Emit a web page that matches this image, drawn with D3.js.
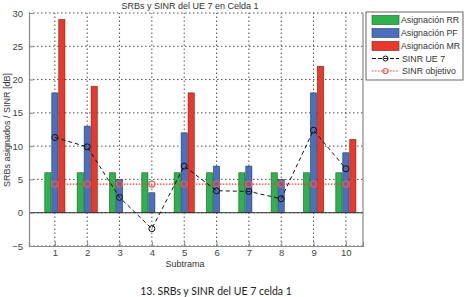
<!DOCTYPE html>
<html><head><meta charset="utf-8">
<script src="https://cdn.jsdelivr.net/npm/d3@7"></script>
<style>body{margin:0;background:#fff}svg{display:block}</style>
</head><body>
<script>
const subtramas = [1,2,3,4,5,6,7,8,9,10];
const asignRR = [6,6,6,6,6,6,6,6,6,6];
const asignPF = [18,13,5,3,12,7,7,5,18,9];
const asignMR = [29,19,0,0,18,0,0,0,22,11];
const sinrUE7 = [11.3,9.9,2.3,-2.4,7.0,3.3,3.2,2.1,12.4,6.6];
const sinrObjetivo = [4.3,4.3,4.3,4.3,4.3,4.3,4.3,4.3,4.3,4.3];
const yTicks = [-5,0,5,10,15,20,25,30];
const seriesNames = ["Asignación RR","Asignación PF","Asignación MR","SINR UE 7","SINR objetivo"];

const W=466,H=297;
const svg=d3.select("body").append("svg").attr("width",W).attr("height",H);
const x=d3.scaleLinear().domain([0.2,10.53]).range([29,363]);
const y=d3.scaleLinear().domain([-5,30]).range([246,13]);
const font="Arial, 'Liberation Sans', sans-serif";

// grid
const g=svg.append("g");
g.selectAll(".gx").data(subtramas).enter().append("line")
 .attr("x1",d=>x(d)).attr("x2",d=>x(d)).attr("y1",y(-5)).attr("y2",y(30))
 .attr("stroke","#222").attr("stroke-width",0.8).attr("stroke-dasharray","1.5,2.5");
g.selectAll(".gy").data(yTicks).enter().append("line")
 .attr("x1",x(0.2)).attr("x2",x(10.53)).attr("y1",d=>y(d)).attr("y2",d=>y(d))
 .attr("stroke","#222").attr("stroke-width",0.8).attr("stroke-dasharray","1.5,2.5");

// bars
const bw = x(0.2+0.19)-x(0.2);
const off = 0.216;
const barSeries=[
 {vals:asignRR,o:-off,fill:"#2eb24b",stroke:"#1f5a2a"},
 {vals:asignPF,o:0,fill:"#4a6fbd",stroke:"#263b66"},
 {vals:asignMR,o:off,fill:"#e8392b",stroke:"#6e1f18"}];
barSeries.forEach(s=>{
 svg.append("g").selectAll("rect").data(subtramas.map((c,i)=>({c,v:s.vals[i]}))).enter()
  .append("rect")
  .attr("x",d=>x(d.c+s.o)-bw/2).attr("width",bw)
  .attr("y",d=>y(Math.max(0,d.v))).attr("height",d=>Math.abs(y(d.v)-y(0)))
  .attr("fill",s.fill).attr("stroke",s.stroke).attr("stroke-width",0.6);
});

// zero line
svg.append("line").attr("x1",x(0.2)).attr("x2",x(10.53)).attr("y1",y(0)).attr("y2",y(0))
 .attr("stroke","#333").attr("stroke-width",1);

// lines
const line=d3.line().x((d,i)=>x(subtramas[i])).y(d=>y(d));
svg.append("path").datum(sinrObjetivo).attr("d",line).attr("fill","none")
 .attr("stroke","#e8392b").attr("stroke-width",1.2).attr("stroke-dasharray","1.5,1.5");
svg.append("g").selectAll("circle").data(sinrObjetivo).enter().append("circle")
 .attr("cx",(d,i)=>x(subtramas[i])).attr("cy",d=>y(d)).attr("r",3)
 .attr("fill","none").attr("stroke","#ee5a5a").attr("stroke-width",1.2);
svg.append("path").datum(sinrUE7).attr("d",line).attr("fill","none")
 .attr("stroke","#111").attr("stroke-width",1).attr("stroke-dasharray","4,3");
svg.append("g").selectAll("circle").data(sinrUE7).enter().append("circle")
 .attr("cx",(d,i)=>x(subtramas[i])).attr("cy",d=>y(d)).attr("r",3)
 .attr("fill","none").attr("stroke","#111").attr("stroke-width",1);

// axes
const yAxis=d3.axisLeft(y).tickValues(yTicks).tickSize(-4).tickPadding(6);
const ya=svg.append("g").attr("transform",`translate(${x(0.2)},0)`).call(yAxis);
const xAxis=d3.axisBottom(x).tickValues(subtramas).tickSize(-4).tickPadding(3);
const xa=svg.append("g").attr("transform",`translate(0,${y(-5)})`).call(xAxis);
[ya,xa].forEach(a=>{
 a.select(".domain").attr("stroke","#888").attr("stroke-width",1.2);
 a.selectAll(".tick line").attr("stroke","#888");
 a.selectAll("text").attr("font-family",font).attr("font-size",9.5).attr("fill","#444");
});
// right border
svg.append("line").attr("x1",x(10.53)).attr("x2",x(10.53)).attr("y1",y(30)).attr("y2",y(-5))
 .attr("stroke","#888").attr("stroke-width",1.2);

// titles
svg.append("text").attr("x",190).attr("y",9).attr("text-anchor","middle")
 .attr("font-family",font).attr("font-size",9).attr("fill","#333").text("SRBs y SINR del UE 7 en Celda 1");
svg.append("text").attr("x",185).attr("y",267).attr("text-anchor","middle")
 .attr("font-family",font).attr("font-size",9).attr("fill","#333").text("Subtrama");
svg.append("text").attr("transform","translate(10,130) rotate(-90)").attr("text-anchor","middle")
 .attr("font-family",font).attr("font-size",9).attr("fill","#333").text("SRBs asignados / SINR [dB]");
svg.append("text").attr("x",216).attr("y",295).attr("text-anchor","middle")
 .attr("font-family","Lato, 'Open Sans', sans-serif").attr("font-size",10.5).attr("fill","#222")
 .text("13. SRBs y SINR del UE 7 celda 1");

// legend
const lg=svg.append("g");
lg.append("rect").attr("x",366).attr("y",12).attr("width",97).attr("height",68)
 .attr("fill","#fff").attr("stroke","#666").attr("stroke-width",1);
const rowY=[20,33,46,58.5,71];
barSeries.forEach((s,i)=>{
 lg.append("rect").attr("x",372).attr("y",rowY[i]-4.5).attr("width",27).attr("height",9)
  .attr("fill",s.fill).attr("stroke",s.stroke).attr("stroke-width",0.6);
});
lg.append("line").attr("x1",372).attr("x2",399).attr("y1",rowY[3]).attr("y2",rowY[3])
 .attr("stroke","#111").attr("stroke-width",1.2).attr("stroke-dasharray","4,2");
lg.append("circle").attr("cx",385.5).attr("cy",rowY[3]).attr("r",2.5).attr("fill","none").attr("stroke","#111");
lg.append("line").attr("x1",372).attr("x2",399).attr("y1",rowY[4]).attr("y2",rowY[4])
 .attr("stroke","#e8392b").attr("stroke-width",1).attr("stroke-dasharray","1.5,1.5");
lg.append("circle").attr("cx",385.5).attr("cy",rowY[4]).attr("r",2.5).attr("fill","none").attr("stroke","#ee5a5a").attr("stroke-width",1.2);
seriesNames.forEach((n,i)=>{
 lg.append("text").attr("x",i<3?401:402).attr("y",rowY[i]+3.3).attr("font-family",font)
  .attr("font-size",8.8).attr("fill","#333").text(n);
});
</script>
</body></html>
